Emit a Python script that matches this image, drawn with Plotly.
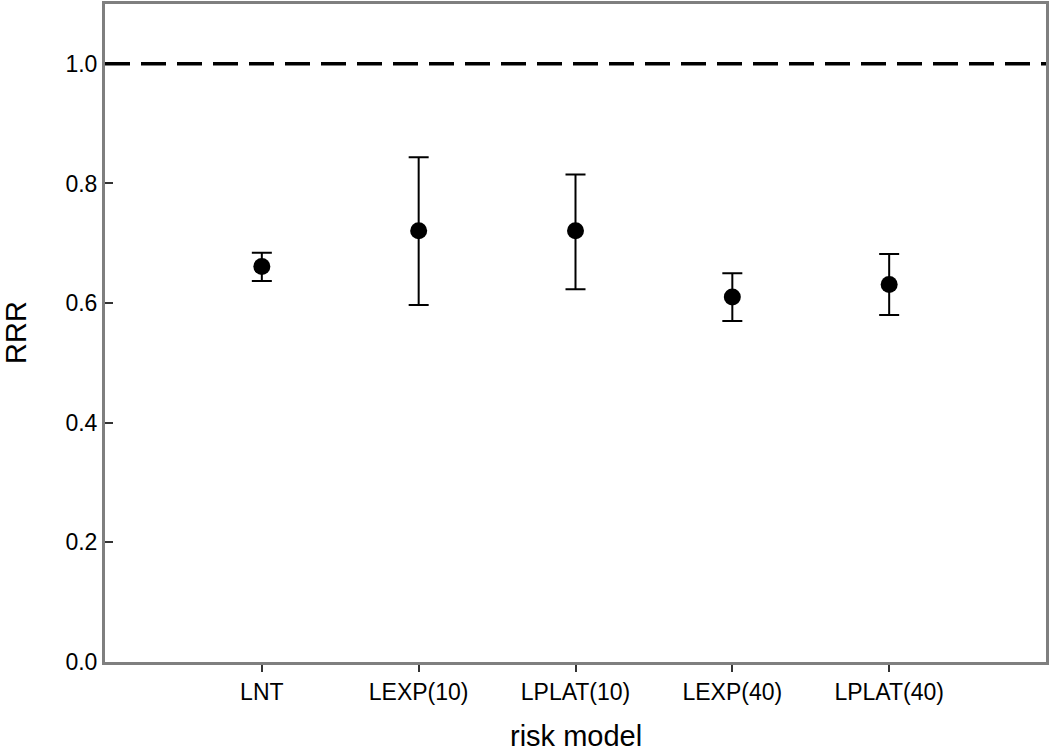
import plotly.graph_objects as go

models = ["LNT", "LEXP(10)", "LPLAT(10)", "LEXP(40)", "LPLAT(40)"]
rrr = [0.661, 0.721, 0.721, 0.610, 0.631]
upper = [0.684, 0.844, 0.815, 0.650, 0.682]
lower = [0.637, 0.597, 0.623, 0.570, 0.580]
yticks = [0.0, 0.2, 0.4, 0.6, 0.8, 1.0]
ref_level = 1.0

err_plus = [u - v for u, v in zip(upper, rrr)]
err_minus = [v - l for v, l in zip(rrr, lower)]

FONT = "Liberation Sans, Arial, sans-serif"

fig = go.Figure()
fig.add_trace(go.Scatter(
    x=models, y=rrr, mode="markers",
    marker=dict(symbol="circle", size=17, color="black"),
    error_y=dict(type="data", symmetric=False, array=err_plus, arrayminus=err_minus,
                 color="black", thickness=2, width=10),
    showlegend=False,
))

fig.add_shape(type="line", xref="paper", x0=0, x1=1, yref="y", y0=ref_level, y1=ref_level,
              line=dict(color="black", width=3.5, dash="25px,11px"))

fig.update_layout(
    width=1050, height=753,
    margin=dict(l=105, r=3, t=1, b=91),
    paper_bgcolor="white", plot_bgcolor="white",
    font=dict(family=FONT, size=24, color="black"),
    xaxis=dict(
        type="category", range=[-1, 5],
        showline=True, linecolor="#7f7f7f", linewidth=3, mirror=True,
        ticks="outside", ticklen=7, tickwidth=2, tickcolor="#333",
        showgrid=False, zeroline=False,
        tickfont=dict(family=FONT, size=23),
    ),
    yaxis=dict(
        range=[0, 1.1], tickvals=yticks, ticktext=[f"{v:.1f}" for v in yticks],
        showline=True, linecolor="#7f7f7f", linewidth=3, mirror=True,
        ticks="inside", ticklen=8, tickwidth=2, tickcolor="#333",
        showgrid=False, zeroline=False,
        tickfont=dict(family=FONT, size=23),
    ),
    annotations=[
        dict(text="RRR", xref="paper", yref="paper", x=0, y=0.5, xanchor="center", yanchor="middle",
             xshift=-89, textangle=-90, showarrow=False, font=dict(family=FONT, size=29)),
        dict(text="risk model", xref="paper", yref="paper", x=0.5, y=0, xanchor="center", yanchor="middle",
             yshift=-74, showarrow=False, font=dict(family=FONT, size=29)),
    ],
)

fig.write_html("out.html", config={"displayModeBar": False},
               post_script="document.body.style.margin='0';document.body.style.padding='0';")
